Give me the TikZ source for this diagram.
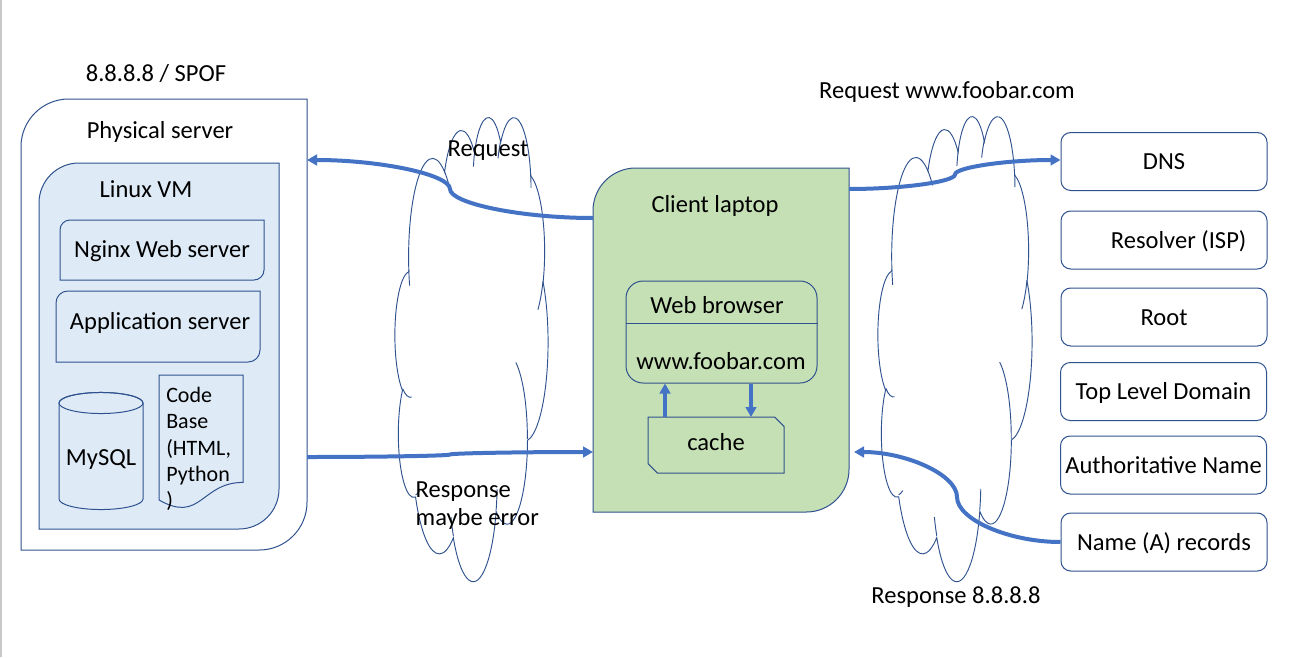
\documentclass[tikz,border=0pt]{standalone}
\usepackage{fontspec}
\setmainfont{Carlito}
\usetikzlibrary{arrows.meta,backgrounds}
\definecolor{linecol}{HTML}{2F528F}
\definecolor{flowcol}{HTML}{4472C4}
\definecolor{vmfill}{HTML}{DEEBF7}
\definecolor{laptopfill}{HTML}{C5E0B4}
\definecolor{edgegray}{HTML}{C8C8C8}

% rounded top left and bottom right corners around a node
\newcommand\diagframe[3]{%
  \draw[#1] ([xshift=#3]#2.north west) -- (#2.north east)
    -- ([yshift=#3]#2.south east)
    .. controls ([yshift=0.4477*#3]#2.south east) and ([xshift=-0.4477*#3]#2.south east) .. ([xshift=-#3]#2.south east)
    -- (#2.south west) -- ([yshift=-#3]#2.north west)
    .. controls ([yshift=-0.4477*#3]#2.north west) and ([xshift=0.4477*#3]#2.north west) .. cycle;}

% one arc of the cloud, angles as seen on the shape
\newcommand\cloudarc[4]{arc[start angle={atan2(#1*sin(#3),#2*cos(#3))},
  delta angle={mod(atan2(#1*sin(#3+#4),#2*cos(#3+#4))-atan2(#1*sin(#3),#2*cos(#3))+720,360)},
  x radius=#1, y radius=#2]}

% cloud in a 43.2 x 43.2 box
\newcommand\cloudshape{%
  \draw[cloudline] (3.9,14.37)
    \cloudarc{6.753}{9.19}{-190.48748}{123.78053}
    \cloudarc{5.333}{7.267}{-144.10238}{89.94523}
    \cloudarc{4.365}{5.945}{-145.80792}{99.72302}
    \cloudarc{4.857}{6.595}{-130.98607}{117.24173}
    \cloudarc{5.333}{7.273}{-78.70888}{109.02692}
    \cloudarc{6.775}{9.22}{-46.26725}{130.269}
    \cloudarc{5.785}{7.867}{0.62502}{114.03333}
    \cloudarc{6.752}{9.215}{22.4516}{115.17255}
    \cloudarc{7.72}{10.543}{66.24263}{75.71102}
    \cloudarc{4.36}{5.918}{-274.94208}{146.73557}
    \cloudarc{4.345}{5.945}{-246.8285}{152.51885}
    -- cycle;
  \draw[cloudline]
    (4.693,26.177) \cloudarc{4.345}{5.945}{86.742}{26.4295}
    (6.928,34.899) \cloudarc{4.36}{5.918}{73.61047}{11.44747}
    (16.478,39.09) \cloudarc{6.752}{9.215}{137.62415}{14.0811}
    (28.827,34.751) \cloudarc{6.752}{9.215}{6.45327}{15.99835}
    (34.129,22.954) \cloudarc{5.785}{7.867}{-70.29235}{70.91737}
    (41.798,15.354) \cloudarc{5.333}{7.273}{30.31803}{27.7515}
    (38.324,5.426) \cloudarc{4.857}{6.595}{-13.74433}{14.8589}
    (29.078,3.952) \cloudarc{4.857}{6.595}{-149.18145}{18.19537}
    (22.141,4.72) \cloudarc{4.365}{5.945}{-163.49427}{19.00362}
    (14,5.192) \cloudarc{6.753}{9.19}{-66.70695}{12.31935}
    (4.127,15.789) \cloudarc{6.753}{9.19}{157.65435}{11.85817};}

\begin{document}
\begin{tikzpicture}[
    x=0.75pt, y=-0.75pt,
    every node/.style={font=\fontsize{18.4}{21}\selectfont, text height=13.8pt, text depth=1.8pt},
    boxnode/.style={draw=none, inner sep=0pt, outer sep=0pt},
    blueline/.style={draw=linecol, line width=0.75pt},
    cloudline/.style={draw=linecol, line width=0.7pt},
    flowarrow/.style={flowcol, line width=3pt, -{Triangle[length=7.5pt,width=8pt]}},
    dnsbox/.style={blueline, fill=white, rounded corners=7.3pt,
      minimum width=154.5pt, minimum height=43.5pt, inner sep=1pt},
    multiline/.style={align=left, text height=, text depth=},
  ]

  \useasboundingbox (0,0) rectangle (1313,657);

  % server side
  \node[boxnode, minimum width=214.5pt, minimum height=338.25pt] (server) at (164,324.5) {};
  \node[boxnode, minimum width=180pt, minimum height=274.5pt] (vm) at (159,346) {};
  \node[boxnode, minimum width=153pt, minimum height=45pt] (nginx) at (162,250) {};
  \node[boxnode, minimum width=153pt, minimum height=53.25pt] (app) at (158,326.5) {};

  % client side
  \node[boxnode, minimum width=192pt, minimum height=258pt] (laptop) at (721,340) {};
  \node[boxnode, minimum width=102pt, minimum height=42pt] (cache) at (716,445) {};

  \begin{scope}[on background layer]
    \fill[white] (0,0) rectangle (1313,657);
    \diagframe{blueline, fill=white}{server}{35.8pt}
    \diagframe{blueline, fill=vmfill}{vm}{30pt}
    \diagframe{blueline, fill=vmfill}{nginx}{7.5pt}
    \diagframe{blueline, fill=vmfill}{app}{8.9pt}
    \diagframe{blueline, fill=laptopfill}{laptop}{32pt}
    \draw[blueline, fill=laptopfill] (cache.north west) -- ([xshift=-7pt]cache.north east)
      -- ([yshift=-7pt]cache.north east) -- (cache.south east)
      -- ([xshift=7pt]cache.south west) -- ([yshift=7pt]cache.south west) -- cycle;
  \end{scope}

  % page edge
  \draw[edgegray, line width=1.2pt] (1,0) -- (1,657);

  \node (nginxlabel) at (162,249) {Nginx Web server};
  \node (applabel) at (160,321) {Application server};

  % database and code base
  \draw[blueline, fill=vmfill] (59,403) -- (59,499)
    arc[start angle=180, end angle=360, x radius=31.5pt, y radius=7.9pt] -- (143,403)
    arc[start angle=0, end angle=180, x radius=31.5pt, y radius=7.9pt] -- cycle;
  \draw[blueline] (101,403) ellipse [x radius=31.5pt, y radius=7.9pt];
  \node (mysql) at (101,457) {MySQL};

  \draw[blueline, fill=vmfill] (159,375) -- (243,375) -- (243,482.4)
    .. controls (201,482.4) and (201,523.8) .. (159,500) -- cycle;
  \node[multiline, anchor=north west, inner sep=0pt, font=\fontsize{16.5}{19.7}\selectfont]
    (codebase) at (166,387) {Code\\Base\\(HTML,\\Python\\)};

  \node (spof) at (156,73) {8.8.8.8 / SPOF};
  \node (serverlabel) at (160,130) {Physical server};
  \node (vmlabel) at (146,189) {Linux VM};

  % browser inside the laptop
  \node[blueline, fill=laptopfill, rounded corners=12.75pt, minimum width=143.25pt,
    minimum height=76.5pt] (browser) at (721.5,332) {};
  \draw[blueline] (browser.west |- 0,323) -- (browser.east |- 0,323);
  \node (browsertitle) at (717,305) {Web browser};
  \node (url) at (721,361) {www.foobar.com};
  \node (laptoplabel) at (715,204) {Client laptop};
  \node (cachelabel) at (716,442) {cache};

  \draw[flowarrow] (cache.north -| 665,0) -- (browser.south -| 665,0);
  \draw[flowarrow] (browser.south -| 751,0) -- (cache.north -| 751,0);

  % DNS chain
  \node[dnsbox] (dns) at (1164,161.5) {DNS};
  \node[dnsbox] (resolver) at (1164,240) {\hspace*{22pt}Resolver (ISP)};
  \node[dnsbox] (root) at (1164,317) {Root};
  \node[dnsbox] (tld) at (1163.5,391.5) {Top Level Domain};
  \node[dnsbox] (auth) at (1163.5,465) {Authoritative Name};
  \node[dnsbox] (arec) at (1164,542) {Name (A) records};

  % internet clouds
  \begin{scope}[shift={(395,116)}, x=2.65625pt, y=-8.0556pt]
    \cloudshape
  \end{scope}
  \begin{scope}[shift={(878,115)}, x=2.6736pt, y=-8.0729pt]
    \cloudshape
  \end{scope}

  % request and response
  \draw[flowarrow] (laptop.west |- 0,218) .. controls (521.5,218) and (450,203.5) .. (450,189)
    .. controls (450,174.5) and (380,160) .. (server.east |- 0,160);
  \draw[flowarrow] (server.east |- 0,457) .. controls (379,457) and (450,455.75) .. (450,454.5)
    .. controls (450,453.25) and (521,452) .. (laptop.west |- 0,452);
  \draw[flowarrow] (laptop.east |- 0,189) .. controls (902,189) and (955,181.75) .. (955,174.5)
    .. controls (955,167.25) and (1007.5,160) .. (dns.west |- 0,160);
  \draw[flowarrow] (arec.west |- 0,542) .. controls (1009,542) and (957,519.5) .. (957,497)
    .. controls (957,474.5) and (905.5,452) .. ([xshift=3.75pt]laptop.east |- 0,452);

  \node (reqlabel) at (488,148.5) {Request};
  \node[multiline, anchor=west] (resplabel) at (411,506) {Response\\maybe error};
  \node (dnsreq) at (947,90) {Request www.foobar.com};
  \node (dnsresp) at (956,595) {Response 8.8.8.8};

\end{tikzpicture}
\end{document}
